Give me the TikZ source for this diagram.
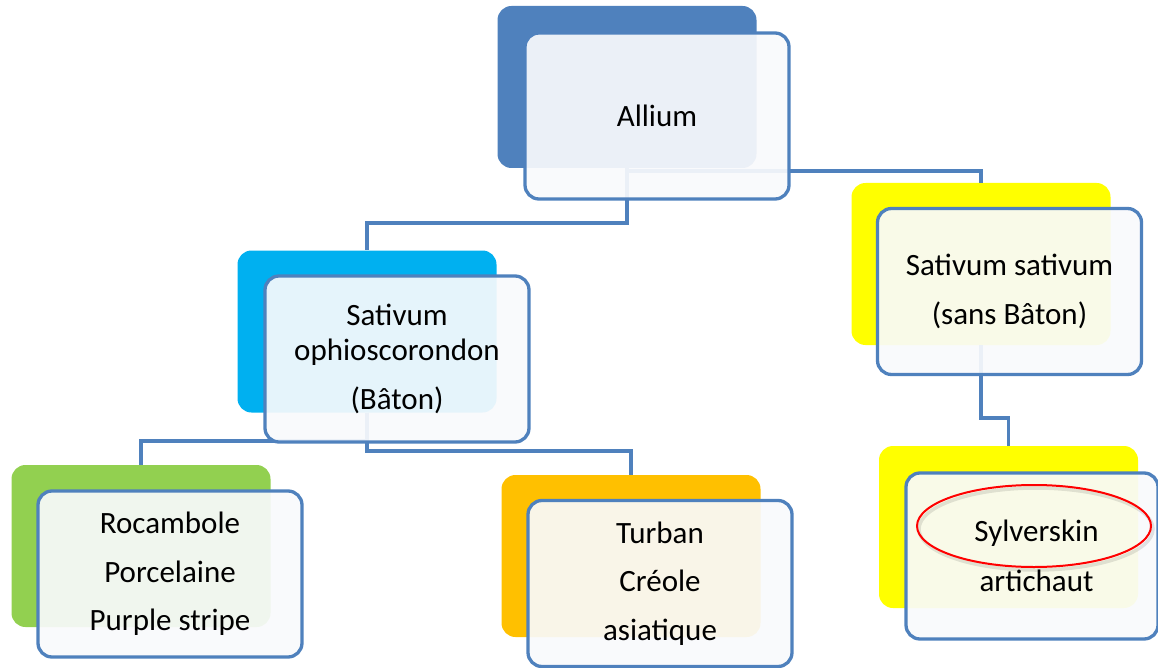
\documentclass[tikz,border=0pt]{standalone}
\usepackage{fontspec}
\setmainfont{Carlito}
\usetikzlibrary{shapes.geometric}
\definecolor{edgeblue}{HTML}{4F81BD}
\definecolor{linkblue}{HTML}{4F81BD}
\definecolor{frontfill}{HTML}{F9FAFC}
\definecolor{c1}{HTML}{4F81BD}
\definecolor{c2}{HTML}{00B0F0}
\definecolor{c3}{HTML}{92D050}
\definecolor{c4}{HTML}{FFC000}
\definecolor{c5}{HTML}{FFFF00}
\definecolor{ringred}{HTML}{FF0000}
\begin{document}
\begin{tikzpicture}[x=1pt,y=-1pt,
  backbox/.style={rounded corners=14pt, minimum width=259pt, minimum height=162pt, inner sep=0pt},
  frontbox/.style={draw=edgeblue, line width=3.3pt, rounded corners=14pt, fill=frontfill, fill opacity=0.92, text opacity=1,
    minimum width=264pt, minimum height=166pt, align=center, font=\fontsize{31}{35}\selectfont, inner sep=0pt},
  link/.style={draw=linkblue, line width=3.4pt},
  ring/.style={ellipse, draw=ringred, line width=2pt, minimum width=234pt, minimum height=82pt, inner sep=0pt}]
\useasboundingbox (0,0) rectangle (1158,668);
% back panels
\node[backbox, fill=c1] (allback) at (627,87) {};
\node[backbox, fill=c2] (ophback) at (367,331.5) {};
\node[backbox, fill=c3] (rocback) at (141,546) {};
\node[backbox, fill=c4] (turback) at (631,556) {};
\node[backbox, fill=c5] (satback) at (981,264) {};
\node[backbox, fill=c5] (sylback) at (1008.5,527) {};
% connectors
\draw[link] (allback.south) -- (allback.south |- 0,223) -| (ophback.north);
\draw[link] (allback.south) -- (allback.south |- 0,171) -| (satback.north);
\draw[link] (ophback.south) -- (ophback.south |- 0,441) -| (rocback.north);
\draw[link] (ophback.south) -- (ophback.south |- 0,451) -| (turback.north);
\draw[link] (satback.south) -- (satback.south |- 0,418) -| (sylback.north);
% front panels
\node[frontbox] (allfront) at (657,116) {Allium};
\node[frontbox] (ophfront) at (397,359) {Sativum\\ophioscorondon\\[14pt](Bâton)};
\node[frontbox] (rocfront) at (170,574) {Rocambole\\[13.5pt]Porcelaine\\[13.5pt]Purple stripe};
\node[frontbox] (turfront) at (660,583.5) {Turban\\[13.5pt]Créole\\[13.5pt]asiatique};
\node[frontbox] (satfront) at (1009.5,291.5) {Sativum sativum\\[14pt](sans Bâton)};
\node[frontbox, minimum width=252pt] (sylfront) at (1032,556) {\hspace*{9pt}Sylverskin\\[15pt]\hspace*{9pt}artichaut};
% highlight ring
\node[ring, draw=black, draw opacity=0.1, line width=3.5pt] (ringshadow) at (1036,529) {};
\node[ring] (ringmark) at (1034,526) {};
\end{tikzpicture}
\end{document}
